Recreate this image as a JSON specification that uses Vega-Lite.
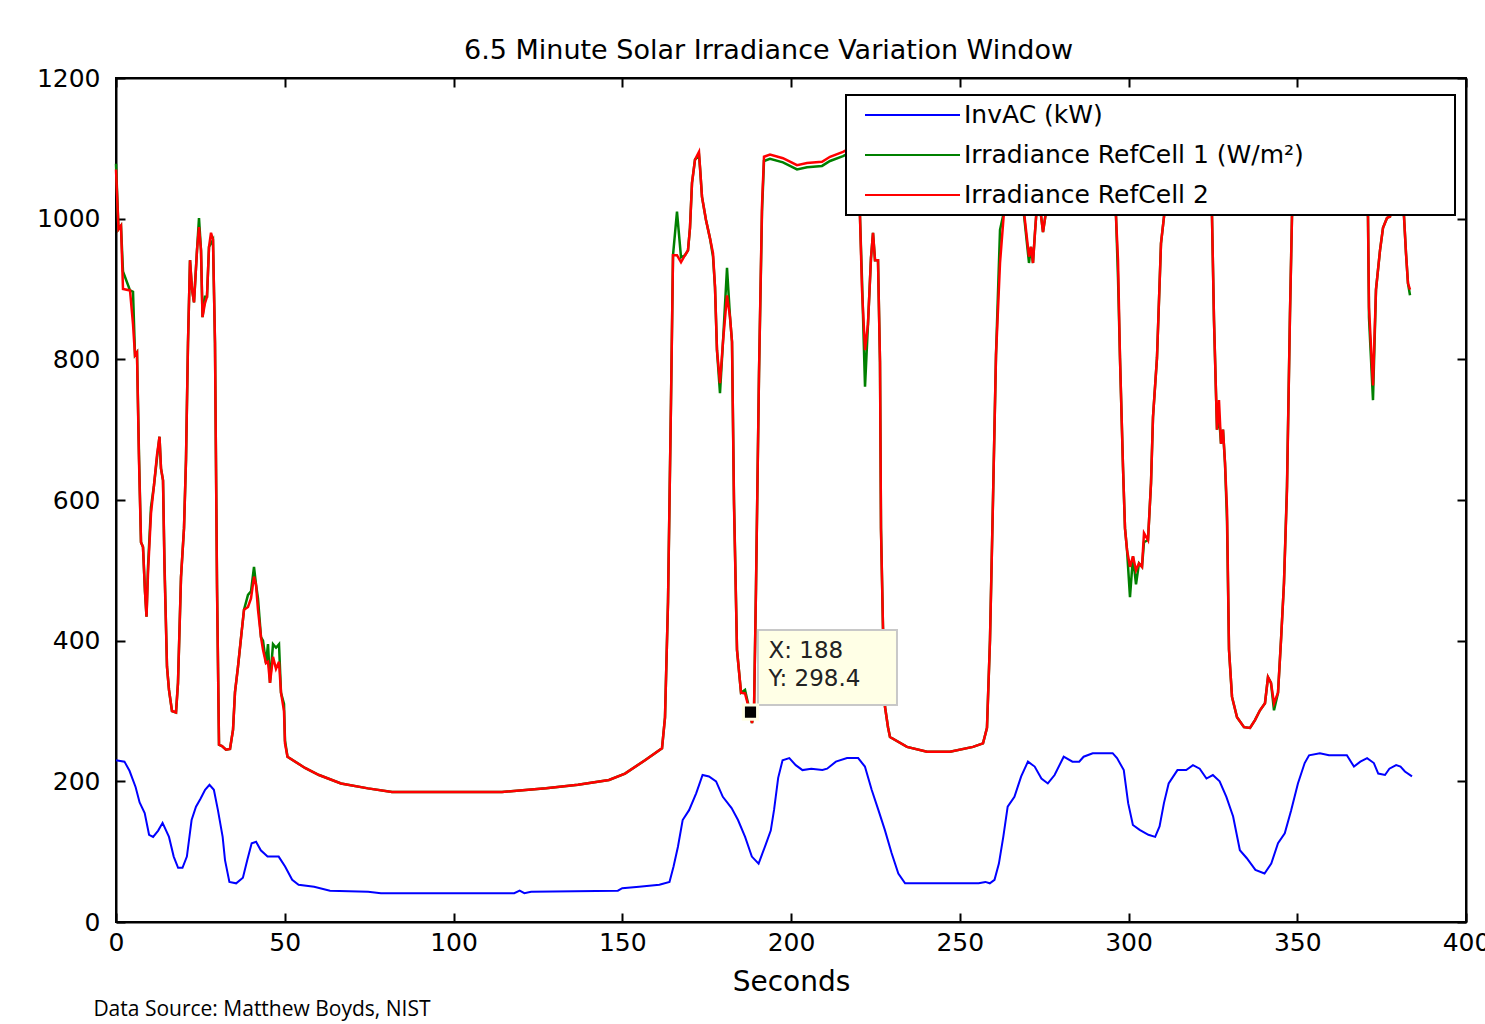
{
  "$schema": "https://vega.github.io/schema/vega-lite/v6.json",
  "width": 1350,
  "height": 844,
  "autosize": {"type": "none"},
  "padding": {"left": 116, "top": 78, "right": 19, "bottom": 102},
  "background": "white",
  "title": {"text": "Data Source: Matthew Boyds, NIST", "orient": "bottom", "anchor": "start", "font": "Open Sans", "fontSize": 21, "fontWeight": "normal", "color": "black", "dx": 57, "offset": 3},
  "config": {
    "view": {"stroke": "black", "strokeWidth": 2},
    "font": "DejaVu Sans",
    "axis": {"labelFont": "DejaVu Sans", "labelFontSize": 25, "labelColor": "black", "labelFlush": false, "titleFont": "DejaVu Sans", "titleFontSize": 28, "titleFontWeight": "normal", "titleColor": "black", "domainColor": "black", "domainWidth": 2, "tickColor": "black", "tickWidth": 2, "tickSize": -9, "grid": false}
  },
  "datasets": {
    "inv": [
      {"t":0,"v":230},{"t":2.5,"v":228},{"t":4,"v":215},{"t":5.8,"v":192},{"t":7,"v":170},{"t":8.5,"v":155},{"t":9.8,"v":124},{"t":11,"v":121},{"t":12.5,"v":130},{"t":13.8,"v":141},{"t":15.7,"v":121},{"t":17.1,"v":93},{"t":18.4,"v":77},{"t":19.7,"v":77},{"t":21,"v":93},{"t":22.4,"v":145},{"t":23.7,"v":164},{"t":25,"v":175},{"t":26.4,"v":188},{"t":27.7,"v":195},{"t":29,"v":188},{"t":30.2,"v":159},{"t":31.6,"v":121},{"t":32.3,"v":88},{"t":33.6,"v":57},{"t":35.6,"v":55},{"t":37.6,"v":63},{"t":38.9,"v":88},{"t":40.2,"v":112},{"t":41.5,"v":114},{"t":42.9,"v":102},{"t":44.9,"v":93},{"t":48.2,"v":93},{"t":50.1,"v":79},{"t":52.2,"v":60},{"t":54.1,"v":53},{"t":58.7,"v":50},{"t":63.4,"v":44.5},{"t":74.7,"v":43},{"t":78.5,"v":41},{"t":118,"v":41},{"t":119.6,"v":44.5},{"t":121,"v":41},{"t":123,"v":43},{"t":148.7,"v":44.5},{"t":150,"v":48},{"t":155,"v":50},{"t":161,"v":53},{"t":164,"v":57},{"t":165.2,"v":79},{"t":166.5,"v":107},{"t":167.9,"v":145},{"t":169.8,"v":159},{"t":171.9,"v":183},{"t":173.8,"v":209},{"t":175.7,"v":207},{"t":177.8,"v":200},{"t":179.8,"v":178},{"t":182.4,"v":162},{"t":184.3,"v":145},{"t":186.4,"v":121},{"t":188.4,"v":93},{"t":190.4,"v":83},{"t":192.5,"v":110},{"t":194,"v":130},{"t":195,"v":160},{"t":196.2,"v":205},{"t":197.5,"v":230},{"t":199.5,"v":233},{"t":201.4,"v":223},{"t":203.4,"v":216},{"t":206,"v":218},{"t":209.3,"v":216},{"t":210.7,"v":218},{"t":213.3,"v":228},{"t":216.6,"v":233},{"t":219.9,"v":233},{"t":221.9,"v":221},{"t":223.9,"v":188},{"t":225.9,"v":159},{"t":227.8,"v":131},{"t":229.8,"v":98},{"t":231.8,"v":69},{"t":233.8,"v":55},{"t":255.6,"v":55},{"t":257.6,"v":57},{"t":258.9,"v":55},{"t":260.3,"v":60},{"t":261.6,"v":83},{"t":262.9,"v":121},{"t":264.2,"v":164},{"t":266.2,"v":178},{"t":268.2,"v":207},{"t":270.2,"v":228},{"t":272.2,"v":221},{"t":274.2,"v":204},{"t":276.1,"v":197},{"t":278.1,"v":209},{"t":280.8,"v":235},{"t":283.4,"v":228},{"t":285.4,"v":228},{"t":286.7,"v":235},{"t":289.4,"v":240},{"t":295.3,"v":240},{"t":296.6,"v":233},{"t":298.6,"v":216},{"t":299.9,"v":169},{"t":301.3,"v":138},{"t":303.3,"v":131},{"t":305.9,"v":124},{"t":307.9,"v":121},{"t":309.2,"v":136},{"t":310.5,"v":169},{"t":311.9,"v":197},{"t":314.5,"v":216},{"t":317.1,"v":216},{"t":319.1,"v":223},{"t":321.1,"v":218},{"t":323.1,"v":204},{"t":325,"v":209},{"t":327,"v":200},{"t":329,"v":178},{"t":331,"v":150},{"t":333,"v":102},{"t":335,"v":91},{"t":337.6,"v":74},{"t":340.3,"v":69},{"t":342.3,"v":83},{"t":344.3,"v":112},{"t":346.3,"v":126},{"t":348.2,"v":159},{"t":350.2,"v":197},{"t":352.2,"v":226},{"t":353.5,"v":237},{"t":356.7,"v":240},{"t":359.4,"v":237},{"t":364.7,"v":237},{"t":366.8,"v":221},{"t":368.7,"v":228},{"t":370.7,"v":233},{"t":372.7,"v":226},{"t":374,"v":211},{"t":376,"v":209},{"t":377.3,"v":218},{"t":379.3,"v":223},{"t":380.6,"v":221},{"t":381.9,"v":214},{"t":384,"v":207}
    ],
    "ref2": [
      {"t":0,"v":1070},{"t":0.74,"v":985},{"t":1.48,"v":990},{"t":2.07,"v":900},{"t":4.15,"v":898},{"t":5.04,"v":850},{"t":5.63,"v":806},{"t":6.22,"v":810},{"t":6.81,"v":657},{"t":7.41,"v":540},{"t":8.0,"v":533},{"t":8.59,"v":470},{"t":9.04,"v":434},{"t":9.48,"v":496},{"t":10.37,"v":581},{"t":11.26,"v":621},{"t":12.15,"v":664},{"t":12.89,"v":690},{"t":13.33,"v":645},{"t":13.93,"v":628},{"t":14.37,"v":503},{"t":15.11,"v":363},{"t":15.7,"v":330},{"t":16.59,"v":300},{"t":17.78,"v":298},{"t":18.37,"v":340},{"t":19.26,"v":490},{"t":20.15,"v":560},{"t":20.74,"v":657},{"t":21.33,"v":823},{"t":21.93,"v":941},{"t":22.52,"v":900},{"t":23.11,"v":881},{"t":24.0,"v":955},{"t":24.59,"v":988},{"t":25.19,"v":955},{"t":25.63,"v":860},{"t":26.37,"v":880},{"t":26.96,"v":889},{"t":27.56,"v":960},{"t":28.15,"v":980},{"t":28.74,"v":970},{"t":29.33,"v":823},{"t":29.93,"v":476},{"t":30.52,"v":252},{"t":31.41,"v":250},{"t":32.59,"v":245},{"t":33.78,"v":246},{"t":34.67,"v":273},{"t":35.26,"v":327},{"t":36.15,"v":363},{"t":37.04,"v":404},{"t":37.93,"v":444},{"t":39.11,"v":448},{"t":40.0,"v":460},{"t":40.89,"v":491},{"t":41.48,"v":480},{"t":42.07,"v":444},{"t":42.96,"v":405},{"t":43.56,"v":387},{"t":44.44,"v":368},{"t":45.04,"v":370},{"t":45.63,"v":340},{"t":46.52,"v":377},{"t":47.41,"v":360},{"t":48.3,"v":370},{"t":48.89,"v":326},{"t":49.78,"v":300},{"t":50.07,"v":254},{"t":50.81,"v":235},{"t":56.0,"v":219},{"t":60.15,"v":209},{"t":66.67,"v":197},{"t":74.67,"v":190},{"t":81.78,"v":185},{"t":114.37,"v":185},{"t":127.41,"v":190},{"t":136.89,"v":195},{"t":146.07,"v":202},{"t":150.81,"v":211},{"t":156.74,"v":230},{"t":161.78,"v":247},{"t":162.67,"v":291},{"t":163.56,"v":455},{"t":164.44,"v":739},{"t":165.04,"v":948},{"t":166.22,"v":948},{"t":167.41,"v":938},{"t":168.59,"v":948},{"t":169.48,"v":955},{"t":170.07,"v":987},{"t":170.67,"v":1051},{"t":171.56,"v":1084},{"t":172.74,"v":1095},{"t":173.04,"v":1073},{"t":173.63,"v":1031},{"t":174.81,"v":998},{"t":176.0,"v":972},{"t":176.89,"v":951},{"t":177.48,"v":903},{"t":178.07,"v":813},{"t":178.96,"v":766},{"t":179.85,"v":825},{"t":181.04,"v":891},{"t":181.93,"v":860},{"t":182.52,"v":825},{"t":183.11,"v":593},{"t":184.0,"v":387},{"t":185.19,"v":326},{"t":186.37,"v":325},{"t":187.85,"v":298.4},{"t":188.44,"v":283},{"t":189.04,"v":300},{"t":189.63,"v":476},{"t":190.52,"v":780},{"t":191.41,"v":1019},{"t":192.0,"v":1088},{"t":193.78,"v":1091},{"t":197.63,"v":1086},{"t":201.78,"v":1076},{"t":204.74,"v":1079},{"t":209.19,"v":1081},{"t":211.56,"v":1088},{"t":215.41,"v":1095},{"t":217.48,"v":1100},{"t":219.85,"v":1100},{"t":220.44,"v":1003},{"t":221.04,"v":899},{"t":221.93,"v":813},{"t":222.81,"v":850},{"t":223.7,"v":944},{"t":224.3,"v":980},{"t":224.89,"v":941},{"t":225.78,"v":941},{"t":226.37,"v":796},{"t":226.67,"v":557},{"t":227.26,"v":418},{"t":227.85,"v":306},{"t":228.74,"v":277},{"t":229.33,"v":263},{"t":234.37,"v":249},{"t":240.3,"v":242},{"t":247.11,"v":242},{"t":253.93,"v":249},{"t":256.89,"v":254},{"t":258.07,"v":276},{"t":258.96,"v":401},{"t":259.85,"v":600},{"t":260.74,"v":806},{"t":261.93,"v":937},{"t":263.11,"v":1010},{"t":264.3,"v":1060},{"t":267.85,"v":1060},{"t":270.52,"v":946},{"t":271.11,"v":960},{"t":271.7,"v":937},{"t":272.3,"v":981},{"t":273.19,"v":1040},{"t":274.67,"v":981},{"t":275.56,"v":1010},{"t":276.74,"v":1060},{"t":294.52,"v":1070},{"t":296.3,"v":1003},{"t":296.89,"v":941},{"t":297.48,"v":802},{"t":298.37,"v":647},{"t":298.96,"v":560},{"t":299.56,"v":529},{"t":300.44,"v":505},{"t":301.33,"v":520},{"t":302.22,"v":500},{"t":303.11,"v":510},{"t":304.0,"v":505},{"t":304.59,"v":553},{"t":305.78,"v":543},{"t":306.67,"v":624},{"t":307.26,"v":718},{"t":308.44,"v":802},{"t":309.63,"v":965},{"t":310.52,"v":1003},{"t":311.7,"v":1060},{"t":323.56,"v":1060},{"t":324.74,"v":1003},{"t":325.33,"v":856},{"t":326.22,"v":700},{"t":326.81,"v":742},{"t":327.41,"v":680},{"t":328.0,"v":700},{"t":328.59,"v":653},{"t":329.19,"v":586},{"t":329.78,"v":387},{"t":330.67,"v":320},{"t":332.15,"v":291},{"t":334.22,"v":277},{"t":336.0,"v":276},{"t":337.48,"v":287},{"t":338.96,"v":301},{"t":340.44,"v":311},{"t":341.33,"v":348},{"t":342.22,"v":340},{"t":343.11,"v":311},{"t":344.3,"v":326},{"t":345.19,"v":401},{"t":346.07,"v":482},{"t":346.96,"v":614},{"t":347.85,"v":866},{"t":348.44,"v":1003},{"t":349.63,"v":1070},{"t":369.78,"v":1070},{"t":370.96,"v":1003},{"t":371.26,"v":874},{"t":372.44,"v":763},{"t":373.33,"v":899},{"t":374.52,"v":955},{"t":375.41,"v":987},{"t":376.59,"v":1001},{"t":377.48,"v":1003},{"t":378.96,"v":1040},{"t":380.74,"v":1040},{"t":381.63,"v":1003},{"t":382.22,"v":951},{"t":382.81,"v":908},{"t":383.41,"v":899}
    ],
    "ref1": [
      {"t":0,"v":1078},{"t":0.74,"v":985},{"t":1.48,"v":990},{"t":2.07,"v":925},{"t":4.15,"v":898},{"t":5.04,"v":896},{"t":5.63,"v":806},{"t":6.22,"v":810},{"t":6.81,"v":665},{"t":7.41,"v":540},{"t":8.0,"v":533},{"t":8.59,"v":470},{"t":9.04,"v":434},{"t":9.48,"v":505},{"t":10.37,"v":590},{"t":11.26,"v":621},{"t":12.15,"v":660},{"t":12.89,"v":690},{"t":13.33,"v":645},{"t":13.93,"v":628},{"t":14.37,"v":510},{"t":15.11,"v":363},{"t":15.7,"v":330},{"t":16.59,"v":300},{"t":17.78,"v":298},{"t":18.37,"v":340},{"t":19.26,"v":490},{"t":20.15,"v":560},{"t":20.74,"v":657},{"t":21.33,"v":823},{"t":21.93,"v":941},{"t":22.52,"v":900},{"t":23.11,"v":881},{"t":24.0,"v":955},{"t":24.59,"v":1001},{"t":25.19,"v":955},{"t":25.63,"v":860},{"t":26.37,"v":889},{"t":26.96,"v":889},{"t":27.56,"v":960},{"t":28.15,"v":965},{"t":28.74,"v":970},{"t":29.33,"v":823},{"t":29.93,"v":480},{"t":30.52,"v":252},{"t":31.41,"v":250},{"t":32.59,"v":245},{"t":33.78,"v":246},{"t":34.67,"v":273},{"t":35.26,"v":327},{"t":36.15,"v":363},{"t":37.04,"v":404},{"t":37.93,"v":444},{"t":39.11,"v":465},{"t":40.0,"v":470},{"t":40.89,"v":505},{"t":41.48,"v":480},{"t":42.07,"v":460},{"t":42.96,"v":405},{"t":43.56,"v":400},{"t":44.44,"v":368},{"t":45.04,"v":395},{"t":45.63,"v":340},{"t":46.52,"v":395},{"t":47.41,"v":390},{"t":48.3,"v":395},{"t":48.89,"v":326},{"t":49.78,"v":310},{"t":50.07,"v":258},{"t":50.81,"v":235},{"t":56.0,"v":219},{"t":60.15,"v":209},{"t":66.67,"v":197},{"t":74.67,"v":190},{"t":81.78,"v":185},{"t":114.37,"v":185},{"t":127.41,"v":190},{"t":136.89,"v":195},{"t":146.07,"v":202},{"t":150.81,"v":211},{"t":156.74,"v":230},{"t":161.78,"v":247},{"t":162.67,"v":291},{"t":163.56,"v":455},{"t":164.44,"v":739},{"t":165.04,"v":948},{"t":166.22,"v":1010},{"t":167.41,"v":945},{"t":168.59,"v":948},{"t":169.48,"v":955},{"t":170.07,"v":987},{"t":170.67,"v":1051},{"t":171.56,"v":1084},{"t":172.74,"v":1090},{"t":173.04,"v":1073},{"t":173.63,"v":1031},{"t":174.81,"v":998},{"t":176.0,"v":972},{"t":176.89,"v":946},{"t":177.48,"v":903},{"t":178.07,"v":813},{"t":178.96,"v":752},{"t":179.85,"v":825},{"t":181.04,"v":930},{"t":181.93,"v":860},{"t":182.52,"v":825},{"t":183.11,"v":600},{"t":184.0,"v":387},{"t":185.19,"v":326},{"t":186.37,"v":330},{"t":187.85,"v":298.4},{"t":188.44,"v":283},{"t":189.04,"v":300},{"t":189.63,"v":476},{"t":190.52,"v":780},{"t":191.41,"v":1010},{"t":192.0,"v":1082},{"t":193.78,"v":1085},{"t":197.63,"v":1080},{"t":201.78,"v":1070},{"t":204.74,"v":1073},{"t":209.19,"v":1075},{"t":211.56,"v":1082},{"t":215.41,"v":1089},{"t":217.48,"v":1094},{"t":219.85,"v":1094},{"t":220.44,"v":1003},{"t":221.04,"v":913},{"t":221.93,"v":761},{"t":222.81,"v":850},{"t":223.7,"v":944},{"t":224.3,"v":980},{"t":224.89,"v":941},{"t":225.78,"v":941},{"t":226.37,"v":796},{"t":226.67,"v":560},{"t":227.26,"v":418},{"t":227.85,"v":306},{"t":228.74,"v":277},{"t":229.33,"v":263},{"t":234.37,"v":249},{"t":240.3,"v":242},{"t":247.11,"v":242},{"t":253.93,"v":249},{"t":256.89,"v":254},{"t":258.07,"v":276},{"t":258.96,"v":401},{"t":259.85,"v":600},{"t":260.74,"v":806},{"t":261.93,"v":984},{"t":263.11,"v":1010},{"t":264.3,"v":1060},{"t":267.85,"v":1060},{"t":270.52,"v":937},{"t":271.11,"v":960},{"t":271.7,"v":937},{"t":272.3,"v":981},{"t":273.19,"v":1040},{"t":274.67,"v":981},{"t":275.56,"v":1010},{"t":276.74,"v":1060},{"t":294.52,"v":1070},{"t":296.3,"v":1003},{"t":296.89,"v":916},{"t":297.48,"v":802},{"t":298.37,"v":647},{"t":298.96,"v":560},{"t":299.56,"v":529},{"t":300.44,"v":462},{"t":301.33,"v":520},{"t":302.22,"v":480},{"t":303.11,"v":510},{"t":304.0,"v":505},{"t":304.59,"v":540},{"t":305.78,"v":543},{"t":306.67,"v":624},{"t":307.26,"v":718},{"t":308.44,"v":802},{"t":309.63,"v":965},{"t":310.52,"v":1003},{"t":311.7,"v":1060},{"t":323.56,"v":1060},{"t":324.74,"v":1003},{"t":325.33,"v":856},{"t":326.22,"v":700},{"t":326.81,"v":720},{"t":327.41,"v":680},{"t":328.0,"v":700},{"t":328.59,"v":653},{"t":329.19,"v":570},{"t":329.78,"v":387},{"t":330.67,"v":320},{"t":332.15,"v":291},{"t":334.22,"v":277},{"t":336.0,"v":276},{"t":337.48,"v":287},{"t":338.96,"v":301},{"t":340.44,"v":311},{"t":341.33,"v":348},{"t":342.22,"v":340},{"t":343.11,"v":301},{"t":344.3,"v":326},{"t":345.19,"v":401},{"t":346.07,"v":482},{"t":346.96,"v":620},{"t":347.85,"v":866},{"t":348.44,"v":1003},{"t":349.63,"v":1070},{"t":369.78,"v":1070},{"t":370.96,"v":1003},{"t":371.26,"v":859},{"t":372.44,"v":742},{"t":373.33,"v":899},{"t":374.52,"v":955},{"t":375.41,"v":987},{"t":376.59,"v":1001},{"t":377.48,"v":1003},{"t":378.96,"v":1040},{"t":380.74,"v":1040},{"t":381.63,"v":1003},{"t":382.22,"v":951},{"t":382.81,"v":908},{"t":383.41,"v":891}
    ],
    "tip": [{"t": 188, "v": 298.4, "label": "X: 188\nY: 298.4"}]
  },
  "layer": [
    {
      "data": {"name": "inv"},
      "transform": [{"calculate": "'InvAC (kW)'", "as": "s"}],
      "mark": {"type": "line", "strokeWidth": 2},
      "encoding": {
        "x": {"field": "t", "type": "quantitative", "scale": {"domain": [0, 400], "nice": false, "zero": false}, "axis": {"orient": "bottom", "values": [0,50,100,150,200,250,300,350,400], "title": "Seconds", "labelPadding": 17, "titlePadding": 13}},
        "y": {"field": "v", "type": "quantitative", "scale": {"domain": [0, 1200], "nice": false}, "axis": {"orient": "left", "values": [0,200,400,600,800,1000,1200], "format": "d", "title": null, "labelPadding": 25}},
        "color": {"field": "s", "type": "nominal", "scale": {"domain": ["InvAC (kW)", "Irradiance RefCell 1 (W/m²)", "Irradiance RefCell 2"], "range": ["#0000FF", "#008000", "#FF0000"]},
          "legend": {"orient": "none", "legendX": 730, "legendY": 17, "title": null, "symbolType": "stroke", "symbolSize": 9025, "symbolStrokeWidth": 2, "clipHeight": 40, "rowPadding": 0, "padding": 0, "symbolOffset": 18, "labelOffset": 3, "labelFont": "DejaVu Sans", "labelFontSize": 25, "labelColor": "black", "labelLimit": 2000, "fillColor": "white", "strokeColor": "black", "labelExpr": "datum.label + '\u00a0\u00a0\u00a0\u00a0\u00a0\u00a0\u00a0\u00a0\u00a0\u00a0\u00a0\u00a0\u00a0\u00a0\u00a0\u00a0\u00a0\u00a0\u00a0\u200b'",
            "encode": {"legend": {"update": {"strokeWidth": {"value": 2}}}}}}
      }
    },
    {
      "data": {"name": "ref1"},
      "transform": [{"calculate": "'Irradiance RefCell 1 (W/m²)'", "as": "s"}],
      "mark": {"type": "line", "strokeWidth": 2.5},
      "encoding": {
        "x": {"field": "t", "type": "quantitative", "axis": {"orient": "top", "values": [0,50,100,150,200,250,300,350,400], "labels": false, "title": "6.5 Minute Solar Irradiance Variation Window", "titleX": 652, "titleY": -28, "titleBaseline": "middle", "titleAlign": "center", "titleFontSize": 27}},
        "y": {"field": "v", "type": "quantitative", "axis": {"orient": "right", "values": [0,200,400,600,800,1000,1200], "labels": false, "title": null}},
        "color": {"field": "s", "type": "nominal"}
      }
    },
    {
      "data": {"name": "ref2"},
      "transform": [{"calculate": "'Irradiance RefCell 2'", "as": "s"}],
      "mark": {"type": "line", "strokeWidth": 2.5},
      "encoding": {
        "x": {"field": "t", "type": "quantitative", "axis": null},
        "y": {"field": "v", "type": "quantitative", "axis": null},
        "color": {"field": "s", "type": "nominal"}
      }
    },
    {
      "data": {"name": "tip"},
      "mark": {"type": "rect", "fill": "#FFFFE6", "stroke": "#C8C8C8", "strokeWidth": 2},
      "encoding": {
        "x": {"datum": 190.2, "type": "quantitative", "axis": null},
        "x2": {"datum": 231.4},
        "y": {"datum": 415, "type": "quantitative", "axis": null},
        "y2": {"datum": 308.5}
      }
    },
    {
      "data": {"name": "tip"},
      "mark": {"type": "point", "shape": "square", "filled": true, "color": "black", "size": 200, "stroke": "#FFFFE6", "strokeWidth": 3, "opacity": 1},
      "encoding": {
        "x": {"field": "t", "type": "quantitative", "axis": null},
        "y": {"field": "v", "type": "quantitative", "axis": null}
      }
    },
    {
      "data": {"name": "tip"},
      "mark": {"type": "text", "align": "left", "baseline": "top", "dx": 18, "dy": -72, "lineBreak": "\n", "lineHeight": 28, "font": "DejaVu Sans", "fontSize": 23, "color": "#222222"},
      "encoding": {
        "x": {"field": "t", "type": "quantitative", "axis": null},
        "y": {"field": "v", "type": "quantitative", "axis": null},
        "text": {"field": "label"}
      }
    }
  ]
}
